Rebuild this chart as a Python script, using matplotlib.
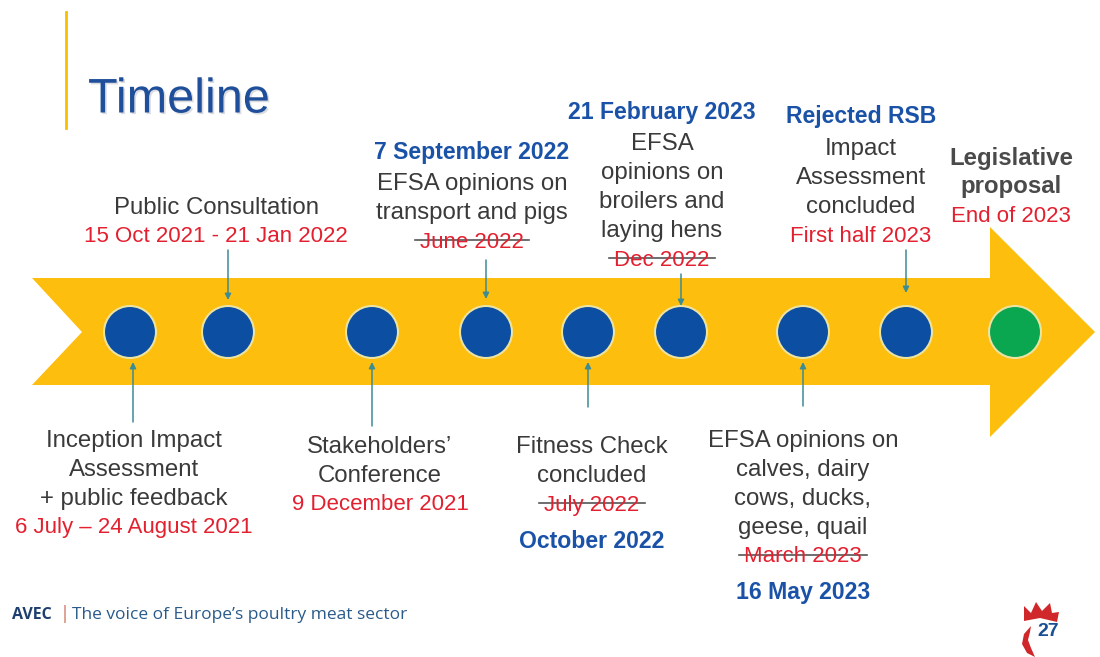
import matplotlib
matplotlib.use("Agg")
import matplotlib.pyplot as plt
from matplotlib.patches import Polygon, Circle
import matplotlib.patheffects as pe

plt.rcParams['font.family'] = ['Liberation Sans', 'DejaVu Sans']

# milestone dots along the arrow (last one = legislative proposal)
dot_x = [130, 228, 372, 486, 588, 681, 803, 906, 1015]
dot_colors = ['#0B4EA2'] * 8 + ['#0AA650']

# callouts above the arrow: (text, style)
top_labels = [
    [("Public Consultation", "body"), ("15 Oct 2021 - 21 Jan 2022", "red")],
    [("7 September 2022", "blue"), ("EFSA opinions on", "body"),
     ("transport and pigs", "body"), ("June 2022", "strike")],
    [("21 February 2023", "blue"), ("EFSA", "body"), ("opinions on", "body"),
     ("broilers and", "body"), ("laying hens", "body"), ("Dec 2022", "strike")],
    [("Rejected RSB", "blue"), ("Impact", "body"), ("Assessment", "body"),
     ("concluded", "body"), ("First half 2023", "red")],
    [("Legislative", "boldgray"), ("proposal", "boldgray"), ("End of 2023", "red")],
]
top_x = [216, 472, 662, 861, 1011]
top_y0 = [208, 152, 112, 117, 158]

# callouts below the arrow
bottom_labels = [
    [("Inception Impact", "body"), ("Assessment", "body"),
     ("+ public feedback", "body"), ("6 July \u2013 24 August 2021", "red")],
    [("Stakeholders\u2019", "body"), ("Conference", "body"), ("9 December 2021", "red")],
    [("Fitness Check", "body"), ("concluded", "body"), ("July 2022", "strike"),
     ("October 2022", "blue")],
    [("EFSA opinions on", "body"), ("calves, dairy", "body"), ("cows, ducks,", "body"),
     ("geese, quail", "body"), ("March 2023", "strike"), ("16 May 2023", "blue")],
]
bottom_x = [134, 380, 592, 803]
bottom_y0 = [441, 447, 447, 441]

# teal pointers: (x, y_from, y_to)
down_ptr = [(228, 250, 300), (486, 260, 299), (681, 274, 306), (906, 250, 293)]
up_ptr = [(133, 422, 362), (372, 426, 362), (588, 407, 362), (803, 406, 362)]

styles = {
    "body": dict(color='#3A3A3A', fontsize=17.3),
    "red": dict(color='#E3202F', fontsize=16),
    "strike": dict(color='#E3202F', fontsize=16),
    "blue": dict(color='#1A52A8', fontsize=16.6, fontweight='bold'),
    "boldgray": dict(color='#4A4A4A', fontsize=17.3, fontweight='bold'),
}

fig = plt.figure(figsize=(11, 6.57), dpi=100)
ax = fig.add_axes([0, 0, 1, 1])
ax.set_xlim(0, 1100)
ax.set_ylim(657, 0)
ax.axis('off')

# big yellow arrow
arrow = Polygon([(32, 278), (990, 278), (990, 227), (1095, 332), (990, 437),
                 (990, 385), (32, 385), (82, 332)], closed=True,
                facecolor='#FDBE0D', edgecolor='none')
ax.add_patch(arrow)

for x, c in zip(dot_x, dot_colors):
    ax.add_patch(Circle((x, 332), 26, facecolor=c, edgecolor='#EDE3A0', lw=1.5, zorder=3))

for x, y1, y2 in down_ptr + up_ptr:
    ax.annotate('', xy=(x, y2), xytext=(x, y1),
                arrowprops=dict(arrowstyle='-|>', color='#3C8C96', lw=1.1,
                                mutation_scale=9, shrinkA=0, shrinkB=0))

struck = []
line_h = 29
for groups, xs, y0s in [(top_labels, top_x, top_y0), (bottom_labels, bottom_x, bottom_y0)]:
    for lines, x, y0 in zip(groups, xs, y0s):
        y = y0
        for i, (txt, st) in enumerate(lines):
            # blue date lines sit a little apart from the rest
            if st == "blue" and i > 0:
                y += 7
            t = ax.text(x, y, txt, ha='center', va='center', **styles[st])
            if st == "strike":
                struck.append(t)
            y += line_h + (3 if (st == "blue" and i == 0) else 0)

# title and accent bar
ax.plot([66, 66], [12, 128], color='#F5C000', lw=2)
ax.text(88, 100, "Timeline", fontsize=35, color='#1F4E9A', va='center', ha='left',
        path_effects=[pe.SimplePatchShadow(offset=(1.2, -1.2), alpha=0.15), pe.Normal()])

# footer
foot = ['Open Sans', 'DejaVu Sans']
ax.text(12, 615, "AVEC", fontsize=11.5, color='#1F3F6E', fontweight='bold',
        family=foot, va='center')
ax.text(60, 614, "|", fontsize=13, color='#D0705A', family=foot, va='center')
ax.text(72, 615, "The voice of Europe\u2019s poultry meat sector", fontsize=12.5, color='#2A5A8A',
        family=foot, va='center')

# page logo: red crest + comb + page number
red = '#D0282A'
ax.add_patch(Polygon([(1024, 621), (1024, 606), (1031, 613), (1036, 602), (1042, 611),
                      (1050, 603), (1052, 613), (1059, 612), (1057, 622), (1040, 618)],
                     closed=True, facecolor=red, edgecolor='none'))
ax.add_patch(Polygon([(1031, 626), (1024, 634), (1022, 644), (1027, 653), (1035, 657),
                      (1031, 648), (1028, 640), (1030, 632)],
                     closed=True, facecolor=red, edgecolor='none'))
ax.text(1048, 632, "27", fontsize=14, color='#1A4F93', fontweight='bold', ha='center', va='center')

# strike-through lines across the superseded dates
fig.canvas.draw()
r = fig.canvas.get_renderer()
inv = ax.transData.inverted()
for t in struck:
    bb = t.get_window_extent(renderer=r)
    (x0, yb), (x1, yt) = inv.transform([(bb.x0, bb.y0), (bb.x1, bb.y1)])
    ym = (yb + yt) / 2 - 2
    ax.plot([x0 - 5, x1 + 5], [ym, ym], color='#555555', lw=1.2)

fig.savefig('out.png', dpi=100)
